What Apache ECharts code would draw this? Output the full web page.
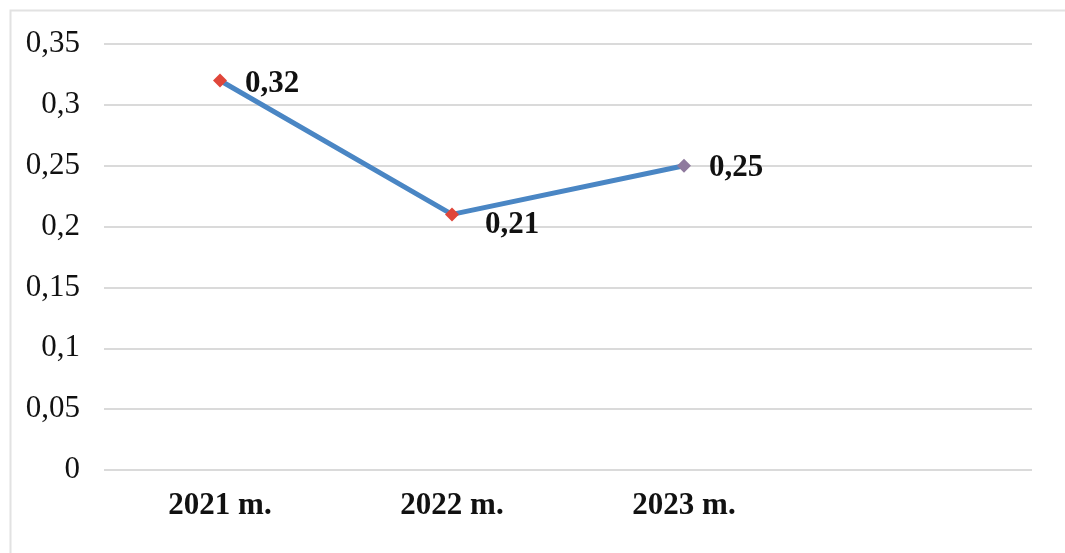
<!DOCTYPE html>
<html><head><meta charset="utf-8">
<script src="https://cdn.jsdelivr.net/npm/echarts@6/dist/echarts.min.js"></script>
<style>html,body{margin:0;padding:0;background:#fff}#c{width:1065px;height:553px}</style>
</head><body><div id="c"></div>
<script>
const categories = ['2021 m.', '2022 m.', '2023 m.', ''];
const values = [0.32, 0.21, 0.25, null];
const yTicks = [0, 0.05, 0.1, 0.15, 0.2, 0.25, 0.3, 0.35];

const markerColors = ['#e0463a', '#e0463a', '#8f7a9e'];
const labelOffsets = [[0, 3], [8, 11], [0, 2]];

const chart = echarts.init(document.getElementById('c'));
const fmt = v => String(v).replace('.', ',');
chart.setOption({
  animation: false,
  backgroundColor: '#fff',
  graphic: [{
    type: 'rect', shape: {x: 10.5, y: 10.5, width: 1080, height: 600},
    style: {fill: 'none', stroke: '#e2e2e2', lineWidth: 2}, silent: true
  }],
  grid: {left: 104, right: 33, top: 44, bottom: 83},
  xAxis: {
    type: 'category', data: categories, boundaryGap: true,
    axisLine: {show: false}, axisTick: {show: false},
    axisLabel: {fontFamily: 'Liberation Serif', fontWeight: 'bold', fontSize: 31, color: '#111', margin: 20}
  },
  yAxis: {
    type: 'value', min: 0, max: 0.35, interval: 0.05,
    axisLine: {show: false}, axisTick: {show: false},
    splitLine: {lineStyle: {color: '#dadada', width: 2}},
    axisLabel: {fontFamily: 'Liberation Serif', fontSize: 31, color: '#111', margin: 24,
      formatter: v => { const t = yTicks.find(x => Math.abs(x - v) < 1e-9); return fmt(+((t ?? v).toFixed(2))); }}
  },
  series: [{
    type: 'line',
    data: values.map((v, i) => v == null ? null : {
      value: v,
      itemStyle: {color: markerColors[i]},
      label: {offset: labelOffsets[i]}
    }),
    symbol: 'diamond', symbolSize: 14,
    lineStyle: {color: '#4a86c4', width: 5},
    label: {show: true, position: 'right', distance: 18,
      fontFamily: 'Liberation Serif', fontWeight: 'bold', fontSize: 31, color: '#111',
      formatter: p => fmt(p.value)}
  }]
});
</script></body></html>
